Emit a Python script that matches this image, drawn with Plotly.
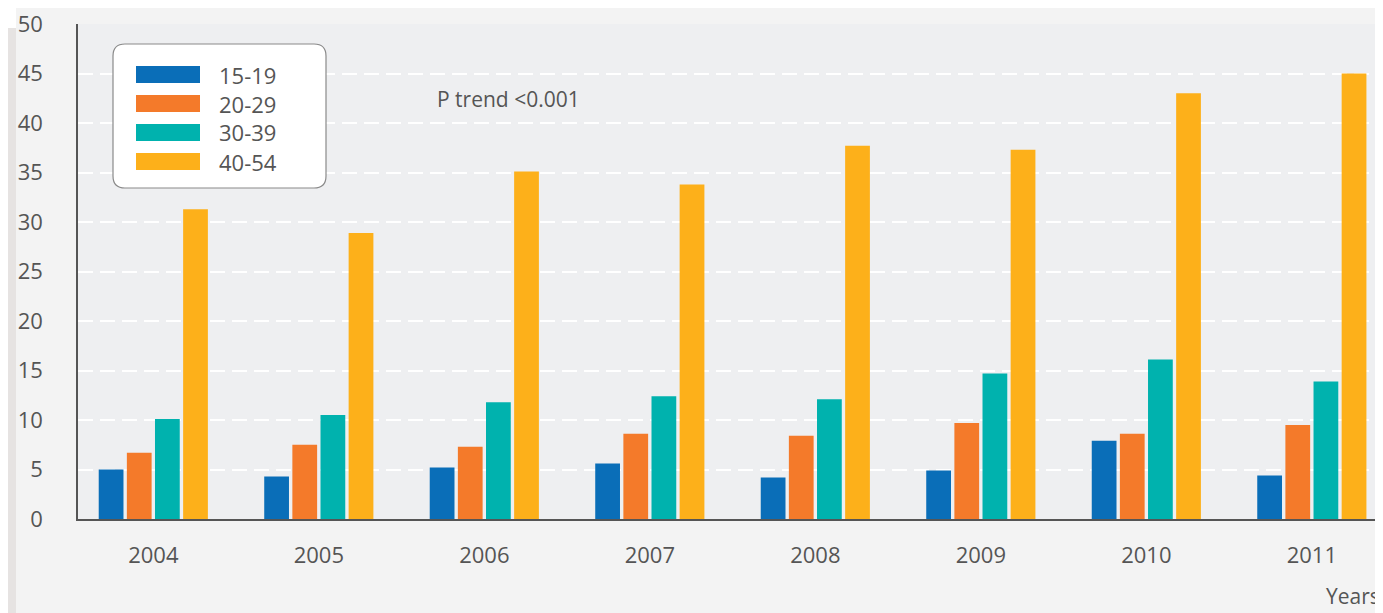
import plotly.graph_objects as go

years = ["2004", "2005", "2006", "2007", "2008", "2009", "2010", "2011"]
age_groups = ["15-19", "20-29", "30-39", "40-54"]
v_15_19 = [5.0, 4.3, 5.2, 5.6, 4.2, 4.9, 7.9, 4.4]
v_20_29 = [6.7, 7.5, 7.3, 8.6, 8.4, 9.7, 8.6, 9.5]
v_30_39 = [10.1, 10.5, 11.8, 12.4, 12.1, 14.7, 16.1, 13.9]
v_40_54 = [31.3, 28.9, 35.1, 33.8, 37.7, 37.3, 43.0, 45.0]
series = [v_15_19, v_20_29, v_30_39, v_40_54]
colors = ["#0a6eb8", "#f47a2a", "#00b2ae", "#fdb01a"]
y_ticks = [0, 5, 10, 15, 20, 25, 30, 35, 40, 45, 50]

OFF = 8  # page body margin
W, H = 1383 - OFF, 613 - OFF
L, R, T = 78 - OFF, 0, 24 - OFF
B = H - (519 - OFF)
PW, PH = W - L - R, H - T - B
FONT = "Open Sans"
TXT = "#555555"

def px(x):
    return (x - OFF - L) / PW

def py(y):
    return (H - B - (y - OFF)) / PH

fig = go.Figure()
for name, vals, col in zip(age_groups, series, colors):
    fig.add_trace(go.Bar(x=years, y=vals, name=name, marker_color=col,
                         marker_line_width=0, showlegend=False))

shapes = []
# left page shadow
shapes.append(dict(type="rect", xref="paper", yref="paper", x0=px(8), x1=px(16), y0=py(613), y1=py(28),
                   fillcolor="#e6e3e2", line_width=0, layer="below"))
shapes.append(dict(type="rect", xref="paper", yref="paper", x0=px(8), x1=px(16), y0=py(28), y1=py(8),
                   fillcolor="#ffffff", line_width=0, layer="below"))

# rounded legend box
x0, x1, y0, y1, r = 113, 326, 44, 188, 12
def P(x, y):
    return f"{px(x):.6f},{py(y):.6f}"
path = (f"M {P(x0+r, y0)} L {P(x1-r, y0)} Q {P(x1, y0)} {P(x1, y0+r)} "
        f"L {P(x1, y1-r)} Q {P(x1, y1)} {P(x1-r, y1)} L {P(x0+r, y1)} "
        f"Q {P(x0, y1)} {P(x0, y1-r)} L {P(x0, y0+r)} Q {P(x0, y0)} {P(x0+r, y0)} Z")
shapes.append(dict(type="path", xref="paper", yref="paper", path=path,
                   fillcolor="white", line=dict(color="#8a8a8a", width=1.2)))

annotations = []
sw_top = [66, 95, 124, 153]
for i, (name, col) in enumerate(zip(age_groups, colors)):
    shapes.append(dict(type="rect", xref="paper", yref="paper",
                       x0=px(136), x1=px(200), y0=py(sw_top[i] + 17), y1=py(sw_top[i]),
                       fillcolor=col, line_width=0))
    annotations.append(dict(xref="paper", yref="paper", x=px(217), y=py(sw_top[i] + 8.5),
                            text=name, showarrow=False, xanchor="left", yanchor="middle",
                            font=dict(family=FONT, size=22, color=TXT)))

annotations.append(dict(xref="paper", yref="paper", x=px(435), y=py(99), text="P trend &lt;0.001",
                        showarrow=False, xanchor="left", yanchor="middle",
                        font=dict(family=FONT, size=21, color=TXT)))
annotations.append(dict(xref="paper", yref="paper", x=px(1382), y=py(596), text="Years",
                        showarrow=False, xanchor="right", yanchor="middle",
                        font=dict(family=FONT, size=21, color=TXT)))

fig.update_layout(
    width=W, height=H,
    margin=dict(l=L, r=R, t=T, b=B, pad=0),
    paper_bgcolor="#f3f3f3",
    plot_bgcolor="#eeeff1",
    barmode="group", bargap=0.32, bargroupgap=0.12,
    font=dict(family=FONT, size=22, color=TXT),
    shapes=shapes, annotations=annotations,
    showlegend=False,
)
fig.update_xaxes(type="category", range=[-0.455, 7.43], showline=True, linecolor="#555555",
                 linewidth=1.5, showgrid=False, ticks="outside", ticklen=16, tickcolor="rgba(0,0,0,0)",
                 tickfont=dict(family=FONT, size=22, color=TXT), fixedrange=True)
fig.update_yaxes(range=[0, 50], tickvals=y_ticks, showline=True, linecolor="#555555", linewidth=1.5,
                 showgrid=True, gridcolor="white", gridwidth=2, griddash="15px,7px",
                 zeroline=False, ticks="outside", ticklen=29, tickcolor="rgba(0,0,0,0)",
                 ticklabeloverflow="allow",
                 tickfont=dict(family=FONT, size=22, color=TXT), fixedrange=True)

fig.write_html("out.html")
